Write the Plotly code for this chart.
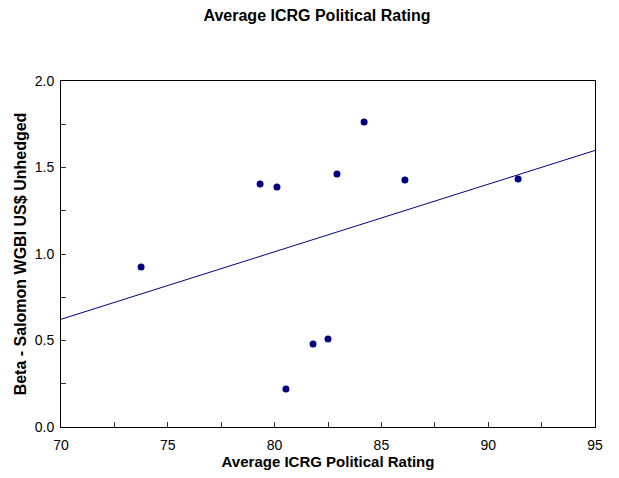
import numpy as np
import plotly.graph_objects as go

# Average ICRG political rating vs. beta against Salomon WGBI (US$, unhedged)
icrg_rating = [73.75, 79.32, 80.11, 80.53, 81.80, 82.50, 82.92, 84.19, 86.10, 91.40]
beta_wgbi = [0.925, 1.405, 1.387, 0.220, 0.480, 0.509, 1.462, 1.763, 1.428, 1.434]

x_range = [70, 95]
y_range = [0, 2.0]

# Least-squares fitted line across the full x range
slope, intercept = np.polyfit(icrg_rating, beta_wgbi, 1)
fit_x = np.array(x_range, dtype=float)
fit_y = intercept + slope * fit_x

FONT = "Liberation Sans, Arial, sans-serif"
NAVY = "#000080"

fig = go.Figure()
fig.add_trace(go.Scatter(
    x=fit_x, y=fit_y, mode="lines",
    line=dict(color=NAVY, width=1), hoverinfo="skip", showlegend=False,
))
fig.add_trace(go.Scatter(
    x=icrg_rating, y=beta_wgbi, mode="markers",
    marker=dict(color=NAVY, size=7, line=dict(width=0)), showlegend=False,
))

axis_common = dict(
    showline=True, linecolor="black", linewidth=1, mirror=True,
    ticks="inside", ticklen=5, tickwidth=1, tickcolor="#333333",
    showgrid=False, zeroline=False,
    tickfont=dict(family=FONT, size=14, color="black"),
)

fig.update_xaxes(
    range=x_range, tick0=70, dtick=5, ticklabelstandoff=5,
    minor=dict(ticks="inside", ticklen=5, dtick=2.5, tickcolor="#333333", showgrid=False),
    title=dict(text="<b>Average ICRG Political Rating</b>", standoff=3,
               font=dict(family=FONT, size=15, color="black")),
    **axis_common,
)
fig.update_yaxes(
    range=y_range, tick0=0, dtick=0.5, tickformat=".1f", ticklabelstandoff=3,
    minor=dict(ticks="inside", ticklen=5, dtick=0.25, tickcolor="#333333", showgrid=False),
    title=dict(text="<b>Beta - Salomon WGBI US$ Unhedged</b>", standoff=4,
               font=dict(family=FONT, size=16, color="black")),
    **axis_common,
)

fig.update_layout(
    width=619, height=478,
    margin=dict(l=61, r=24, t=81, b=51, autoexpand=False),
    paper_bgcolor="white", plot_bgcolor="white",
    title=dict(text="<b>Average ICRG Political Rating</b>",
               x=317 / 619, xanchor="center", y=1 - 15 / 478, yanchor="middle",
               font=dict(family=FONT, size=16, color="black")),
    font=dict(family=FONT),
)

fig.write_html("out.html")
